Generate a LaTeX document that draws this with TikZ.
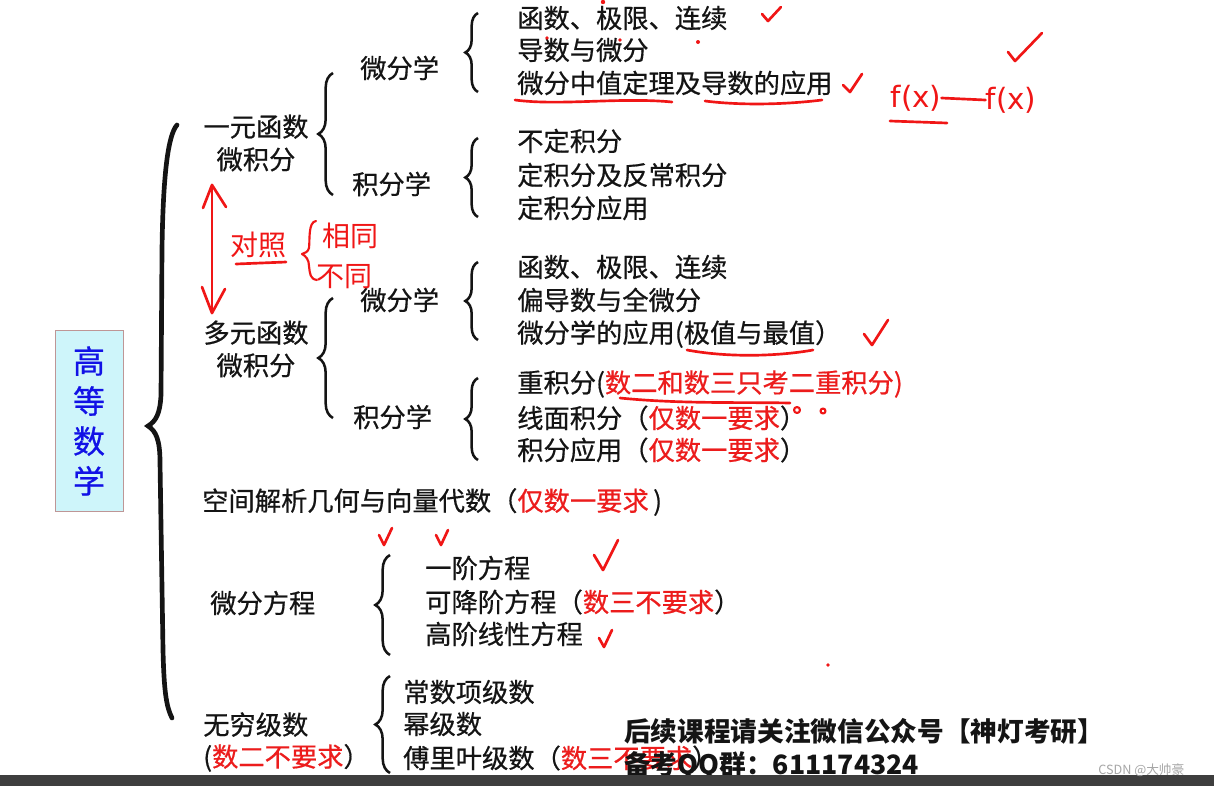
\documentclass[tikz,border=0pt]{standalone}
\usepackage{fontspec}
\newfontfamily\cjk{Noto Sans CJK SC}
\newfontfamily\cjkm{Noto Sans CJK SC}[FakeBold=0.6]
\newfontfamily\hw{DejaVu Sans}
\usetikzlibrary{decorations.pathreplacing}
\definecolor{hred}{RGB}{240,22,22}
\definecolor{tred}{RGB}{236,28,28}
\definecolor{tblue}{RGB}{18,18,230}
\definecolor{boxfill}{RGB}{206,245,250}
\definecolor{boxline}{RGB}{190,150,150}
\definecolor{ink}{RGB}{20,20,20}
\definecolor{barcol}{RGB}{62,62,62}
\newcommand{\rd}[1]{\textcolor{tred}{#1}}
\tikzset{
  itm/.style={anchor=west,inner sep=0pt,text=ink,font=\cjkm\fontsize{19.7}{24}\selectfont},
  grp/.style={inner sep=0pt,text=ink,align=center,font=\cjkm\fontsize{19.7}{24.5}\selectfont},
  curly/.style={decorate,decoration={brace,amplitude=#1},line width=1.9pt,draw=ink},
  curly/.default=9.5pt,
  hand/.style={draw=hred,line width=2pt,line cap=round,line join=round},
  hwtext/.style={inner sep=0pt,text=hred,font=\cjk\fontsize{21}{24}\selectfont},
  titlebox/.style={draw=boxline,fill=boxfill,line width=0.6pt,minimum width=51pt,minimum height=136pt,inner sep=0pt,align=center,text=tblue,font=\cjkm\fontsize{24}{30}\selectfont}
}
\begin{document}
\begin{tikzpicture}[x=0.75pt,y=-0.75pt]
\useasboundingbox (0,0) rectangle (1214,786);
\fill[white] (0,0) rectangle (1214,786);

% root box
\node[titlebox] (root) at (89,421) {高\\等\\数\\学};

% big brace
\draw[line width=3.5pt,line cap=round,draw=ink] (177,125) .. controls (168,135) and (163,175) .. (162,250) -- (161,395) .. controls (160,414) and (156,421) .. (148,426) .. controls (156,431) and (160,440) .. (160,462) -- (163,650) .. controls (164,690) and (166,706) .. (172,718);

% level 1
\node[grp] (yiyuan) at (256,143) {一元函数\\微积分};
\node[grp] (duoyuan) at (256,349) {多元函数\\微积分};
\node[itm] (kongjian) at (202,502) {空间解析几何与向量代数（\rd{仅数一要求}\,)};
\node[itm] (wffc) at (210,603) {微分方程};
\node[itm,align=left] (wqjs) at (203,742) {无穷级数\\(\rd{数二不要求}）};

% level 2
\node[itm] (wf1) at (360,68) {微分学};
\node[itm] (jf1) at (352,184) {积分学};
\node[itm] (wf2) at (360,300) {微分学};
\node[itm] (jf2) at (353,417) {积分学};

\draw[curly=11pt] (333,195) -- (333,73);
\draw[curly=11pt] (333,418) -- (333,298);

% items
\node[itm] (a1) at (517,18) {函数、极限、连续};
\node[itm] (a2) at (517,50) {导数与微分};
\node[itm] (a3) at (517,83) {微分中值定理及导数的应用};
\draw[curly] (478,92) -- (478,13);

\node[itm] (b1) at (517,141) {不定积分};
\node[itm] (b2) at (517,175) {定积分及反常积分};
\node[itm] (b3) at (517,208) {定积分应用};
\draw[curly] (478,217) -- (478,138);

\node[itm] (c1) at (517,267) {函数、极限、连续};
\node[itm] (c2) at (517,300) {偏导数与全微分};
\node[itm] (c3) at (517,334) {微分学的应用(极值与最值）};
\draw[curly] (478,340) -- (478,262);

\node[itm] (d1) at (517,384) {重积分(\rd{数二和数三只考二重积分)}};
\node[itm] (d2) at (517,418) {线面积分（\rd{仅数一要求}）};
\node[itm] (d3) at (517,450) {积分应用（\rd{仅数一要求}）};
\draw[curly] (478,460) -- (478,378);

\node[itm] (e1) at (425,568) {一阶方程};
\node[itm] (e2) at (425,602) {可降阶方程（\rd{数三不要求}）};
\node[itm] (e3) at (425,634) {高阶线性方程};
\draw[curly=11pt] (390,655) -- (390,555);

\node[itm] (f1) at (403,692) {常数项级数};
\node[itm] (f2) at (403,724) {幂级数};
\node[itm] (f3) at (403,758) {傅里叶级数（\rd{数三不要求}）};
\draw[curly=11pt] (390,773) -- (390,676);

% footer
\node[itm,font=\cjk\bfseries\fontsize{20}{24}\selectfont] (foot1) at (624,731) {后续课程请关注微信公众号【神灯考研】};
\node[itm,font=\cjk\bfseries\fontsize{20}{24}\selectfont] (foot2) at (624,766) {备考QQ群：611174324};
\fill[barcol] (0,775) rectangle (1214,786);
\node[anchor=west,inner sep=0pt,text=black!35,font=\cjk\fontsize{9.5}{11}\selectfont] (csdn) at (1098,770) {CSDN @大帅豪};

% ---- handwritten annotations ----
% check marks
\draw[hand] (762,14) -- (768,21) -- (781,7);
\draw[hand] (843,85) -- (850,92) -- (862,74);
\draw[hand] (1008,52) -- (1015,61) -- (1042,33);
\draw[hand] (864,334) -- (872,345) -- (888,320);
\draw[hand] (379,535) -- (384,545) -- (392,528);
\draw[hand] (436,535) -- (441,545) -- (448,530);
\draw[hand] (594,555) -- (603,570) -- (618,540);
\draw[hand] (599,638) -- (604,647) -- (612,630);

% underlines
\draw[hand] (515,100) .. controls (560,106) and (620,97) .. (672,102);
\draw[hand] (705,101) .. controls (745,106) and (790,104) .. (822,100);
\draw[hand] (687,350) .. controls (730,358) and (780,356) .. (813,350);
\draw[hand] (620,398) .. controls (680,404) and (740,402) .. (790,403);

% small dots / rings
\draw[hand,line width=1.6pt] (797,410) circle (3);
\draw[hand,line width=1.6pt] (823,411) circle (2.5);
\fill[hred] (603,2) circle (2.2);
\fill[hred] (547,38) circle (1.8);
\fill[hred] (620,40) circle (1.8);
\fill[hred] (698,42) circle (2);
\fill[hred] (828,665) circle (1.8);

% comparison arrow between the two calculus groups
\coordinate (artop) at (212,185);
\coordinate (arbot) at (212,313);
\draw[hand] (artop) -- (arbot);
\draw[hand] (203,208) -- (artop) -- (226,207);
\draw[hand] (202,287) -- (arbot) -- (225,289);
\node[hwtext] (duizhao) at (258,245) {对照};
\draw[hand] (236,264) -- (286,262);
\draw[hand,line width=1.6pt] (316,221) .. controls (308,222) and (310,240) .. (309,248) .. controls (308,252) and (305,253) .. (302,254) .. controls (306,256) and (309,260) .. (309,266) .. controls (310,274) and (310,279) .. (317,280);
\node[hwtext] (xiangtong) at (350,236) {相同};
\node[hwtext] (butong) at (344,277) {不同};

% f(x) -- f(x)
\node[inner sep=0pt,text=hred,font=\hw\fontsize{22}{24}\selectfont] (fx1) at (916,98) {f(x)};
\node[inner sep=0pt,text=hred,font=\hw\fontsize{22}{24}\selectfont] (fx2) at (1011,100) {f(x)};
\draw[hand] (fx1.east) -- (fx2.west);
\draw[hand] (890,121) -- (947,123);
\end{tikzpicture}
\end{document}
